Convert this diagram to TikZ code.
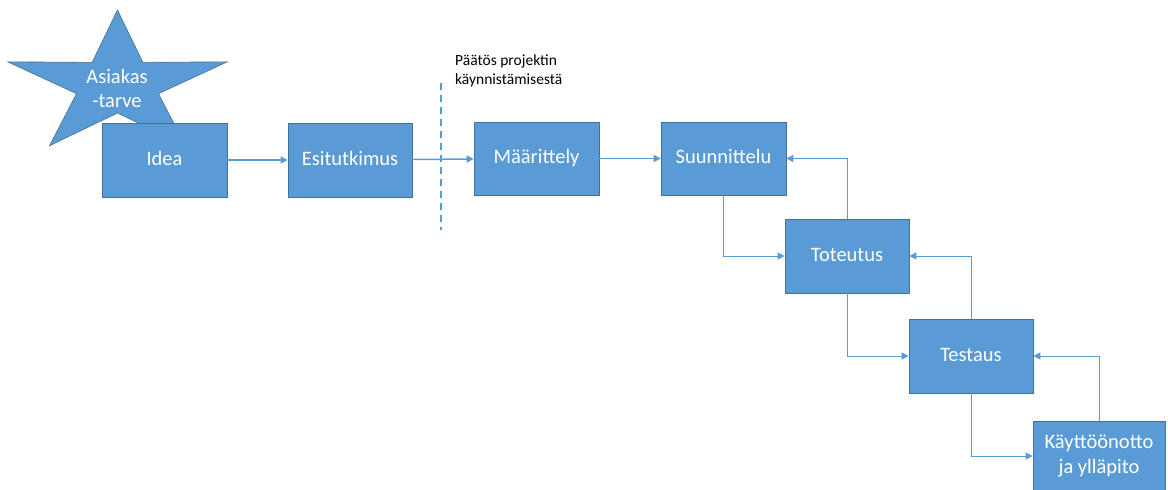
\documentclass[tikz,border=0pt]{standalone}
\usepackage{fontspec}
\setmainfont{Carlito}
\usetikzlibrary{arrows.meta}
\definecolor{boxfill}{HTML}{5B9BD5}
\definecolor{boxline}{HTML}{41719C}
\definecolor{linkblue}{HTML}{5B9BD5}
\tikzset{
  phase/.style={rectangle, fill=boxfill, draw=boxline, line width=0.6pt,
    inner sep=0pt, text=white, align=center, font=\fontsize{20.5}{25}\selectfont},
  oneline/.style={text height=14pt, text depth=4pt},
  flow/.style={draw=linkblue, line width=1.5pt, -{Triangle[length=7pt,width=7pt]}},
  loop/.style={draw=linkblue, line width=0.9pt, -{Triangle[length=7pt,width=7pt]}},
  gate/.style={draw=linkblue, line width=2.4pt, dash pattern=on 7pt off 5pt}
}
\begin{document}
\begin{tikzpicture}[x=1pt, y=-1pt]
\useasboundingbox (0,0) rectangle (1168,490);

% customer-need star (horizontally stretched five-point star)
\def\cx{117.5}\def\cy{85}\def\R{75}\def\r{28}\def\sx{1.54}
\fill[boxfill, draw=boxline, line width=0.6pt]
  ({\cx+\sx*\R*cos(90)},{\cy-\R*sin(90)})
  -- ({\cx+\sx*\r*cos(126)},{\cy-\r*sin(126)})
  -- ({\cx+\sx*\R*cos(162)},{\cy-\R*sin(162)})
  -- ({\cx+\sx*\r*cos(198)},{\cy-\r*sin(198)})
  -- ({\cx+\sx*\R*cos(234)},{\cy-\R*sin(234)})
  -- ({\cx+\sx*\r*cos(270)},{\cy-\r*sin(270)})
  -- ({\cx+\sx*\R*cos(306)},{\cy-\R*sin(306)})
  -- ({\cx+\sx*\r*cos(342)},{\cy-\r*sin(342)})
  -- ({\cx+\sx*\R*cos(18)},{\cy-\R*sin(18)})
  -- ({\cx+\sx*\r*cos(54)},{\cy-\r*sin(54)})
  -- cycle;
\node[text=white, align=center, font=\fontsize{20.5}{24}\selectfont] (tarve) at (117,88) {Asiakas\\-tarve};

% phases
\node[phase, oneline, minimum width=125pt, minimum height=74pt] (idea) at (164.5,160) {Idea};
\node[phase, oneline, minimum width=124pt, minimum height=74pt] (esi) at (350,160) {Esitutkimus};
\node[phase, oneline, minimum width=125pt, minimum height=73pt] (maar) at (536.5,158.5) {Määrittely};
\node[phase, oneline, minimum width=125pt, minimum height=73pt] (suun) at (723.5,158.5) {Suunnittelu};
\node[phase, oneline, minimum width=124pt, minimum height=74pt] (tot) at (847,256) {Toteutus};
\node[phase, oneline, minimum width=124pt, minimum height=74pt] (test) at (971,356) {Testaus};
\node[phase, minimum width=132pt, minimum height=70pt] (kaytto) at (1099,456) {Käyttöönotto\\ja ylläpito};

% decision gate
\coordinate (gtop) at (441,83);
\coordinate (gbot) at (441,230);
\draw[gate] (gtop) -- (gbot);
\node[anchor=north west, align=left, inner sep=0pt, font=\fontsize{15.5}{19}\selectfont] (paatos) at (455,55) {Päätös projektin\\käynnistämisestä};

% forward flow
\draw[flow] (idea) -- (esi);
\draw[flow] (esi) -- (maar);
\draw[flow] (maar) -- (suun);
\draw[loop] (suun.south) |- (tot.west);
\draw[loop] (tot.south) |- (test.west);
\draw[loop] (test.south) |- (kaytto.west);

% feedback
\draw[loop] (tot.north) |- (suun.east);
\draw[loop] (test.north) |- (tot.east);
\draw[loop] (kaytto.north) |- (test.east);
\end{tikzpicture}
\end{document}
